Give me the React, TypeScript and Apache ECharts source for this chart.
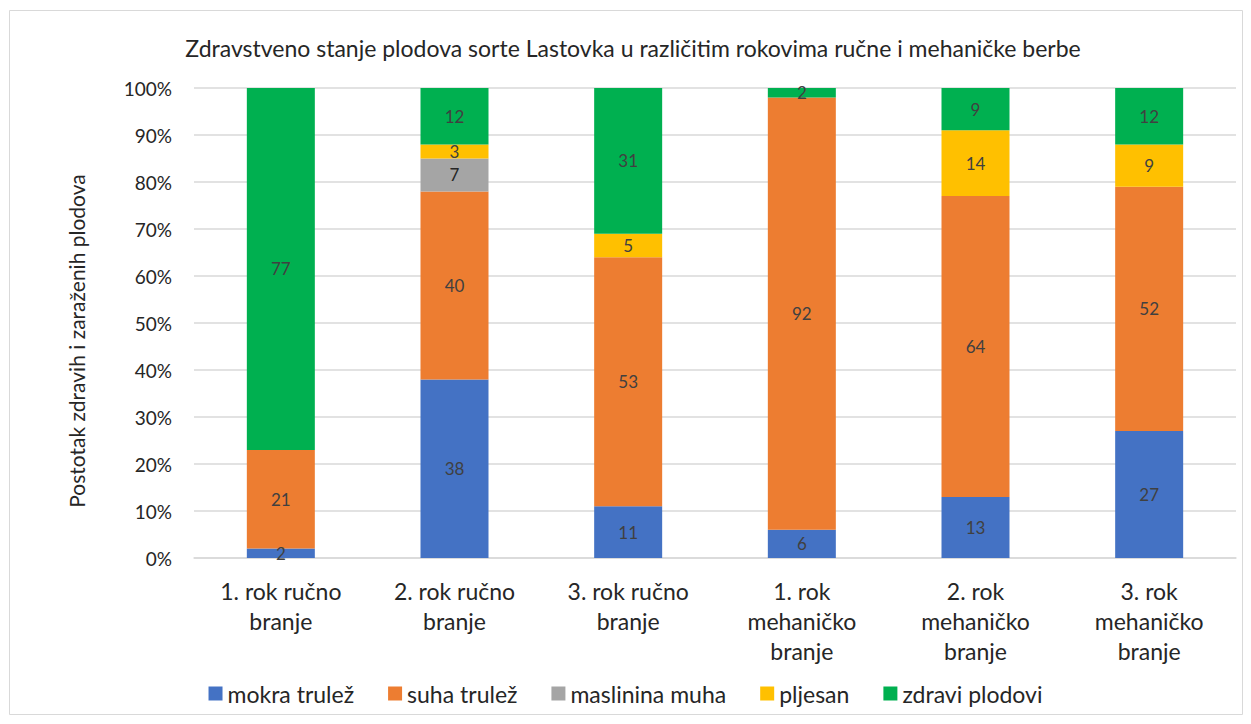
import React, { useEffect, useRef } from "react";
import * as echarts from "echarts";

const categories = [
  "1. rok ručno\nbranje",
  "2. rok ručno\nbranje",
  "3. rok ručno\nbranje",
  "1. rok\nmehaničko\nbranje",
  "2. rok\nmehaničko\nbranje",
  "3. rok\nmehaničko\nbranje",
];
const mokraTrulez = [2, 38, 11, 6, 13, 27];
const suhaTrulez = [21, 40, 53, 92, 64, 52];
const maslininaMuha = [null, 7, null, null, null, null];
const pljesan = [null, 3, 5, null, 14, 9];
const zdraviPlodovi = [77, 12, 31, 2, 9, 12];

const seriesDefs = [
  { name: "mokra trulež", data: mokraTrulez, color: "#4472C4", label: "#404040" },
  { name: "suha trulež", data: suhaTrulez, color: "#ED7D31", label: "#404040" },
  { name: "maslinina muha", data: maslininaMuha, color: "#A5A5A5", label: "#262626" },
  { name: "pljesan", data: pljesan, color: "#FFC000", label: "#404040" },
  { name: "zdravi plodovi", data: zdraviPlodovi, color: "#00B050", label: "#404040" },
];

const FONT = "Lato";

export default function App() {
  const ref = useRef<HTMLDivElement>(null);
  useEffect(() => {
    const chart = echarts.init(ref.current!, null, { renderer: "svg" });
    chart.setOption({
      animation: false,
      backgroundColor: "#fff",
      textStyle: { fontFamily: FONT },
      title: {
        text: "Zdravstveno stanje plodova sorte Lastovka u različitim rokovima ručne i mehaničke berbe",
        left: 628,
        textAlign: "center",
        top: 31,
        textStyle: { fontFamily: FONT, fontSize: 23, fontWeight: "normal", color: "#262626" },
      },
      graphic: [
        {
          type: "rect",
          shape: { x: 9.5, y: 10.5, width: 1233, height: 704 },
          style: { fill: "none", stroke: "#d9d9d9", lineWidth: 1 },
          silent: true,
        },
        {
          type: "text",
          x: 76,
          y: 341,
          rotation: Math.PI / 2,
          silent: true,
          style: {
            text: "Postotak zdravih i zaraženih plodova",
            fontFamily: FONT,
            fontSize: 21,
            fill: "#262626",
            align: "center",
            verticalAlign: "middle",
          },
        },
      ],
      legend: {
        bottom: 14,
        left: "center",
        itemWidth: 14,
        itemHeight: 14,
        itemGap: 34,
        icon: "rect",
        textStyle: { fontFamily: FONT, fontSize: 23, color: "#262626" },
        data: seriesDefs.map((s) => s.name),
      },
      grid: { left: 194, right: 15, top: 88, bottom: 166 },
      xAxis: {
        type: "category",
        data: categories,
        axisTick: { show: false },
        axisLine: { lineStyle: { color: "#d9d9d9", width: 1.5 } },
        axisLabel: {
          fontFamily: FONT,
          fontSize: 23,
          lineHeight: 30,
          color: "#262626",
          margin: 18,
          interval: 0,
        },
      },
      yAxis: {
        type: "value",
        min: 0,
        max: 100,
        interval: 10,
        axisLine: { show: false },
        axisTick: { show: false },
        splitLine: { lineStyle: { color: "#d9d9d9", width: 1.5 } },
        axisLabel: {
          formatter: "{value}%",
          fontFamily: FONT,
          fontSize: 19,
          color: "#262626",
          margin: 22,
        },
      },
      series: seriesDefs.map((s) => ({
        name: s.name,
        type: "bar",
        stack: "total",
        barWidth: 68,
        data: s.data,
        itemStyle: { color: s.color },
        label: {
          show: true,
          position: "inside",
          fontFamily: FONT,
          fontSize: 17,
          color: s.label,
        },
      })),
    });
    return () => chart.dispose();
  }, []);
  return (
    <div
      ref={ref}
      style={{ position: "fixed", left: 0, top: 0, width: 1251, height: 724 }}
    />
  );
}
